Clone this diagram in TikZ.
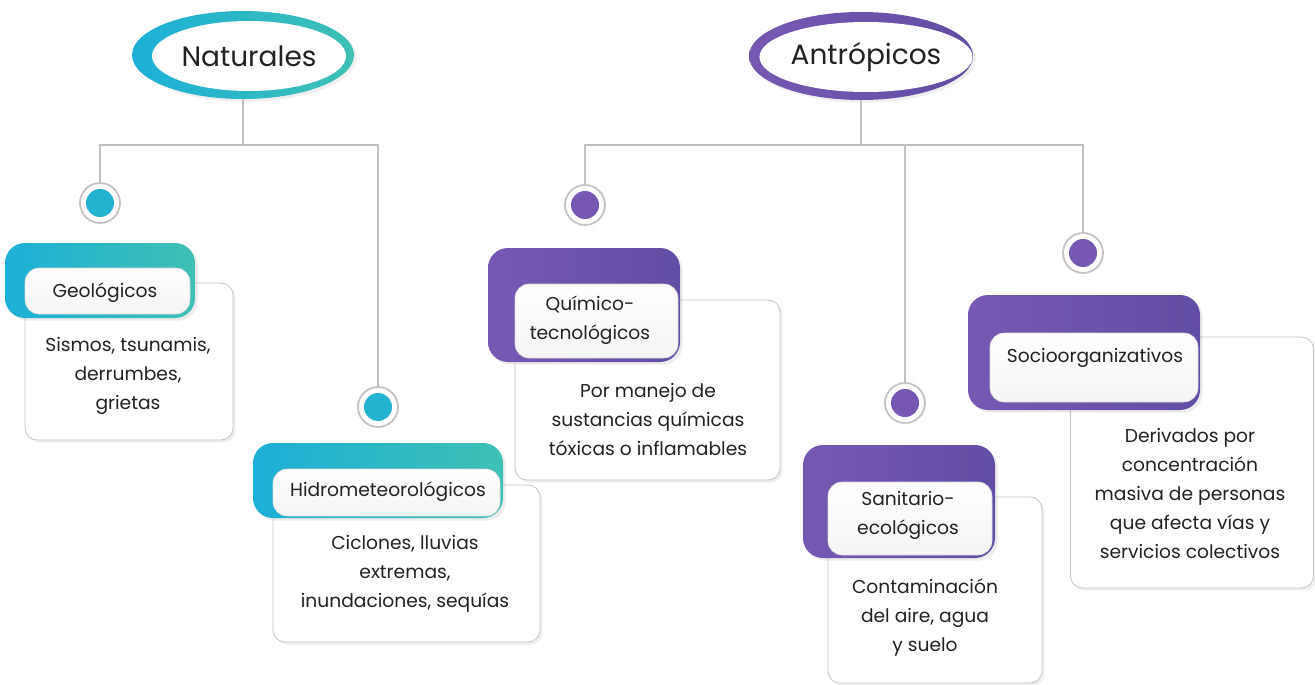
\documentclass[tikz,border=0pt]{standalone}
\usepackage{fontspec}
\setmainfont{Poppins}
\usetikzlibrary{shapes.geometric,shadows}
\newdimen\pxu \pxu=0.75pt
\definecolor{tealA}{RGB}{28,176,216}
\definecolor{tealB}{RGB}{62,192,180}
\definecolor{purA}{RGB}{118,88,178}
\definecolor{purB}{RGB}{98,78,164}
\definecolor{ringgray}{RGB}{200,196,196}
\definecolor{conngray}{RGB}{196,192,192}
\definecolor{boxgray}{RGB}{196,198,206}
\definecolor{txt}{RGB}{34,34,34}
\tikzset{
  conn/.style={draw=conngray, line width=2.2pt},
  cbox/.style 2 args={draw=boxgray, line width=0.6pt, fill=white, rounded corners=12\pxu,
    minimum width=#1\pxu, minimum height=#2\pxu, inner sep=0pt,
    drop shadow={opacity=0.12, shadow xshift=2pt, shadow yshift=-2pt}},
  hdr/.style 2 args={rounded corners=20\pxu, minimum width=#1\pxu, minimum height=#2\pxu, inner sep=0pt,
    drop shadow={opacity=0.15, shadow xshift=2pt, shadow yshift=-2pt}},
  tealhdr/.style={left color=tealA, right color=tealB},
  purhdr/.style={left color=purA, right color=purB},
  lbl/.style 2 args={draw=black!15, line width=0.4pt, top color=white, bottom color=black!4,
    rounded corners=14\pxu, minimum width=#1\pxu, minimum height=#2\pxu, inner sep=0pt},
  body/.style={text=txt, align=center, font=\fontsize{14}{21.75}\selectfont, inner sep=0pt},
  title/.style={text=txt, font=\fontsize{21}{26}\selectfont, inner sep=0pt},
  dot/.style={circle, draw=ringgray, line width=1.4pt, fill=white, minimum size=40\pxu, inner sep=0pt,
    path picture={\fill[#1] (path picture bounding box.center) circle (14\pxu);}},
}
\begin{document}
\begin{tikzpicture}[x=0.75pt, y=-0.75pt]
\useasboundingbox[fill=white] (0,0) rectangle (1315,685);

% ---- titles ----
\node[ellipse, minimum width=222\pxu, minimum height=88\pxu, left color=tealA, right color=tealB,
  drop shadow={opacity=0.12, shadow xshift=2pt, shadow yshift=-2pt}] (natO) at (243,55) {};
\node[ellipse, minimum width=194\pxu, minimum height=70\pxu, fill=white, title] (nat) at (249,56) {Naturales};
\node[ellipse, minimum width=224\pxu, minimum height=88\pxu, left color=purA, right color=purB,
  drop shadow={opacity=0.12, shadow xshift=2pt, shadow yshift=-2pt}] (antO) at (861,56) {};
\node[ellipse, minimum width=196\pxu, minimum height=70\pxu, fill=white, title] (ant) at (866,57) {Antrópicos};

% ---- junctions ----
\coordinate (natJ) at (243,145);
\coordinate (antJ) at (861,145);

% ---- dots ----
\node[dot=tealA!80!tealB] (c1) at (100,203) {};
\node[dot=tealA!80!tealB] (c2) at (378,407) {};
\node[dot=purA] (c3) at (585,205) {};
\node[dot=purA] (c4) at (905,403) {};
\node[dot=purA] (c5) at (1083,253) {};

% ---- connectors ----
\draw[conn] (natO.south) -- (natJ);
\draw[conn] (c1.north) |- (natJ) -| (c2.north);
\draw[conn] (antO.south) -- (antJ);
\draw[conn] (c3.north) |- (antJ) -| (c5.north);
\draw[conn] (c4.north) -- (c4.north |- antJ);

% ---- Geológicos ----
\node[cbox={208}{157}] (geoB) at (129,361.5) {};
\node[hdr={190}{75}, tealhdr] (geoH) at (100,280.5) {};
\node[lbl={165}{46}] (geoL) at (107.5,291) {};
\node[body] (geoN) at (105,293) {Geológicos};
\node[body] (geoT) at (128,376) {Sismos, tsunamis,\\derrumbes,\\grietas};

% ---- Hidrometeorológicos ----
\node[cbox={267}{157}] (hidB) at (406.5,563.5) {};
\node[hdr={250}{75}, tealhdr] (hidH) at (378,480.5) {};
\node[lbl={227}{47}] (hidL) at (386.5,492.5) {};
\node[body] (hidN) at (388,492) {Hidrometeorológicos};
\node[body] (hidT) at (405,574) {Ciclones, lluvias\\extremas,\\inundaciones, sequías};

% ---- Químico-tecnológicos ----
\node[cbox={265}{180}] (quiB) at (647.5,390) {};
\node[hdr={192}{114}, purhdr] (quiH) at (584,305) {};
\node[lbl={163}{74}] (quiL) at (596.5,321) {};
\node[body] (quiN) at (590,320) {Químico-\\tecnológicos};
\node[body] (quiT) at (648,419) {Por manejo de\\sustancias químicas\\tóxicas o inflamables};

% ---- Sanitario-ecológicos ----
\node[cbox={214}{186}] (sanB) at (935,590) {};
\node[hdr={192}{113}, purhdr] (sanH) at (899,501.5) {};
\node[lbl={164}{73}] (sanL) at (910,518.5) {};
\node[body] (sanN) at (908,515) {Sanitario-\\ecológicos};
\node[body] (sanT) at (925,618) {Contaminación\\del aire, agua\\y suelo};

% ---- Socioorganizativos ----
\node[cbox={243}{251}] (socB) at (1192,462.5) {};
\node[hdr={232}{115}, purhdr] (socH) at (1084,352.5) {};
\node[lbl={208}{69}] (socL) at (1094,367.5) {};
\node[body] (socN) at (1095,358) {Socioorganizativos};
\node[body] (socT) at (1190,493) {Derivados por\\concentración\\masiva de personas\\que afecta vías y\\servicios colectivos};
\end{tikzpicture}
\end{document}
